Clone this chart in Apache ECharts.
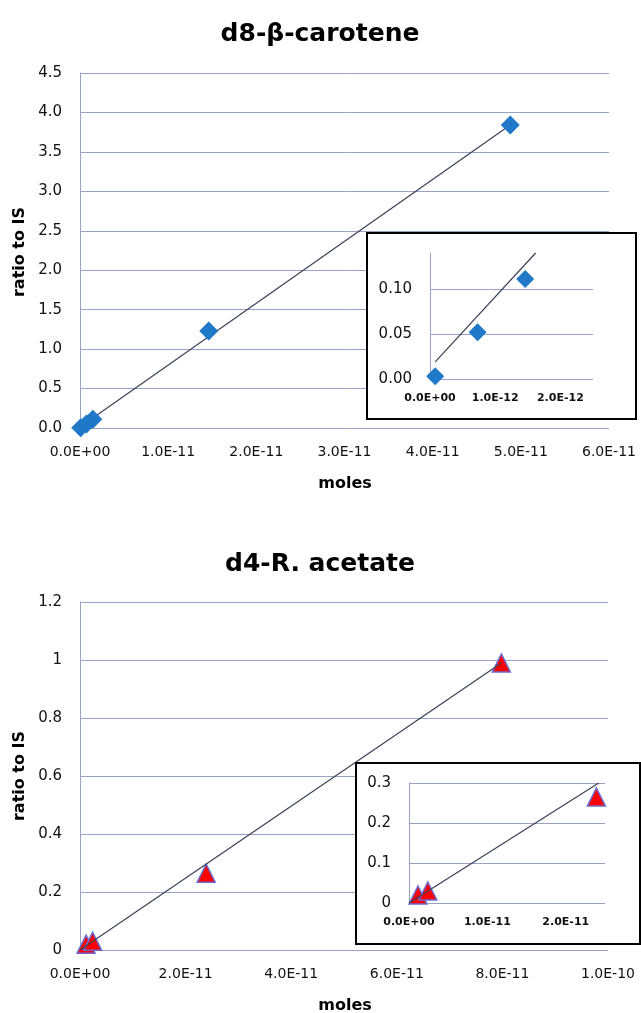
<!DOCTYPE html>
<html>
<head>
<meta charset="utf-8">
<script src="https://cdn.jsdelivr.net/npm/echarts@6/dist/echarts.min.js"></script>
<style>
html,body{margin:0;padding:0;background:#fff;}
#chart{width:641px;height:1013px;}
</style>
</head>
<body>
<div id="chart"></div>
<script>
// ---------- data ----------
const titleTop = 'd8-β-carotene';
const titleBottom = 'd4-R. acetate';
const yAxisTitle = 'ratio to IS';
const xAxisTitle = 'moles';

// d8-β-carotene
const caroteneMoles = [0.08e-12, 0.73e-12, 1.46e-12, 1.46e-11, 4.88e-11];
const caroteneRatio = [0.003, 0.052, 0.111, 1.23, 3.84];
// trend line endpoints (main / inset)
const caroteneTrendX = [0, 4.88e-11];
const caroteneTrendY = [0.013, 3.84];
const caroteneInsetTrendX = [0.08e-12, 1.62e-12];
const caroteneInsetTrendY = [0.019, 0.14];

// d4-R. acetate
const acetateMoles = [0.115e-11, 0.24e-11, 2.39e-11, 7.98e-11];
const acetateRatio = [0.02, 0.03, 0.265, 0.99];
const acetateTrendX = [0, 7.98e-11];
const acetateTrendY = [0, 0.99];
const acetateInsetTrendX = [0, 2.42e-11];
const acetateInsetTrendY = [0, 0.3];

// axis ranges
const topMainX = {min: 0, max: 6e-11, interval: 1e-11};
const topMainY = {min: 0, max: 4.5, interval: 0.5};
const topInsetX = {min: 0, max: 2.5e-12, interval: 1e-12};
const topInsetY = {min: 0, max: 0.14, interval: 0.05};
const botMainX = {min: 0, max: 1e-10, interval: 2e-11};
const botMainY = {min: 0, max: 1.2, interval: 0.2};
const botInsetX = {min: 0, max: 2.5e-11, interval: 1e-11};
const botInsetY = {min: 0, max: 0.3, interval: 0.1};

// ---------- helpers ----------
const FONT = 'DejaVu Sans';
const GRID_COLOR = '#97a3c7';
const TEXT = '#111';
const TREND = '#3a4158';

function sci(v) {
  if (Math.abs(v) < 1e-30) return '0.0E+00';
  let e = Math.floor(Math.log10(Math.abs(v)) + 1e-9);
  let m = v / Math.pow(10, e);
  if (Math.round(m * 10) / 10 >= 10) { m /= 10; e += 1; }
  return m.toFixed(1) + 'E' + (e < 0 ? '-' : '+') + String(Math.abs(e)).padStart(2, '0');
}
function pairs(xs, ys) { return xs.map((x, i) => [x, ys[i]]); }

function xAxisDef(gi, range, opts) {
  return Object.assign({
    type: 'value', gridIndex: gi,
    min: range.min, max: range.max, interval: range.interval,
    axisLine: {show: false}, axisTick: {show: false}, splitLine: {show: false},
    axisLabel: {formatter: sci, color: TEXT, fontFamily: FONT, fontSize: 14, margin: 17}
  }, opts || {});
}
function yAxisDef(gi, range, fmt, opts) {
  return Object.assign({
    type: 'value', gridIndex: gi,
    min: range.min, max: range.max, interval: range.interval,
    axisLine: {show: true, lineStyle: {color: GRID_COLOR, width: 1}},
    axisTick: {show: false},
    splitLine: {show: true, lineStyle: {color: GRID_COLOR, width: 1}},
    axisLabel: {formatter: fmt, color: TEXT, fontFamily: FONT, fontSize: 15, margin: 18}
  }, opts || {});
}

const diamondStyle = {color: '#1f78c8', opacity: 1};
const triangleStyle = {color: '#ff0000', borderColor: '#6b6bd0', borderWidth: 1.5, opacity: 1};

const chart = echarts.init(document.getElementById('chart'), null, {renderer: 'canvas'});

const option = {
  backgroundColor: '#fff',
  animation: false,
  grid: [
    {left: 80, top: 73, width: 529, height: 355},   // top main
    {left: 430, top: 253, width: 163, height: 126}, // top inset
    {left: 80, top: 602, width: 528, height: 348},  // bottom main
    {left: 409, top: 783, width: 196, height: 120}  // bottom inset
  ],
  xAxis: [
    xAxisDef(0, topMainX),
    xAxisDef(1, topInsetX, {z: 10, axisLabel: {formatter: sci, color: TEXT, fontFamily: FONT, fontWeight: 'bold', fontSize: 11, margin: 14, showMaxLabel: false}}),
    xAxisDef(2, botMainX),
    xAxisDef(3, botInsetX, {z: 10, axisLabel: {formatter: sci, color: TEXT, fontFamily: FONT, fontWeight: 'bold', fontSize: 11, margin: 14, showMaxLabel: false}})
  ],
  yAxis: [
    yAxisDef(0, topMainY, v => v.toFixed(1)),
    yAxisDef(1, topInsetY, v => v.toFixed(2), {
      z: 10,
      splitLine: {show: true, showMaxLine: false, lineStyle: {color: GRID_COLOR, width: 1}},
      axisLabel: {formatter: v => v.toFixed(2), color: TEXT, fontFamily: FONT, fontSize: 15, margin: 18, showMaxLabel: false}
    }),
    yAxisDef(2, botMainY, v => String(+v.toFixed(2))),
    yAxisDef(3, botInsetY, v => String(+v.toFixed(2)), {z: 10})
  ],
  series: [
    {type: 'line', xAxisIndex: 0, yAxisIndex: 0, data: pairs(caroteneTrendX, caroteneTrendY),
     symbol: 'none', lineStyle: {color: TREND, width: 1.2}, z: 2, silent: true},
    {type: 'scatter', xAxisIndex: 0, yAxisIndex: 0, data: pairs(caroteneMoles, caroteneRatio),
     symbol: 'diamond', symbolSize: 19, itemStyle: diamondStyle, clip: false, z: 3},
    {type: 'line', xAxisIndex: 1, yAxisIndex: 1, data: pairs(caroteneInsetTrendX, caroteneInsetTrendY),
     symbol: 'none', lineStyle: {color: TREND, width: 1.2}, z: 11, silent: true},
    {type: 'scatter', xAxisIndex: 1, yAxisIndex: 1, data: pairs(caroteneMoles.slice(0, 3), caroteneRatio.slice(0, 3)),
     symbol: 'diamond', symbolSize: 18, itemStyle: diamondStyle, clip: false, z: 12},

    {type: 'line', xAxisIndex: 2, yAxisIndex: 2, data: pairs(acetateTrendX, acetateTrendY),
     symbol: 'none', lineStyle: {color: TREND, width: 1.2}, z: 3, silent: true},
    {type: 'scatter', xAxisIndex: 2, yAxisIndex: 2, data: pairs(acetateMoles, acetateRatio),
     symbol: 'triangle', symbolSize: 18, itemStyle: triangleStyle, clip: false, z: 2},
    {type: 'line', xAxisIndex: 3, yAxisIndex: 3, data: pairs(acetateInsetTrendX, acetateInsetTrendY),
     symbol: 'none', lineStyle: {color: TREND, width: 1.2}, z: 12, silent: true},
    {type: 'scatter', xAxisIndex: 3, yAxisIndex: 3, data: pairs(acetateMoles.slice(0, 3), acetateRatio.slice(0, 3)),
     symbol: 'triangle', symbolSize: 18, itemStyle: triangleStyle, clip: false, z: 11}
  ],
  graphic: [
    {type: 'rect', z: 5, shape: {x: 367, y: 233, width: 269, height: 186},
     style: {fill: '#fff', stroke: '#000', lineWidth: 2}},
    {type: 'rect', z: 5, shape: {x: 356, y: 763, width: 284, height: 181},
     style: {fill: '#fff', stroke: '#000', lineWidth: 2}},
    {type: 'text', z: 20, x: 320, y: 34, style: {text: titleTop, font: 'bold 25px "' + FONT + '"', fill: '#000', textAlign: 'center', textVerticalAlign: 'middle'}},
    {type: 'text', z: 20, x: 320, y: 564, style: {text: titleBottom, font: 'bold 25px "' + FONT + '"', fill: '#000', textAlign: 'center', textVerticalAlign: 'middle'}},
    {type: 'text', z: 20, x: 20, y: 252, rotation: Math.PI / 2, style: {text: yAxisTitle, font: 'bold 16px "' + FONT + '"', fill: '#000', textAlign: 'center', textVerticalAlign: 'middle'}},
    {type: 'text', z: 20, x: 20, y: 776, rotation: Math.PI / 2, style: {text: yAxisTitle, font: 'bold 16px "' + FONT + '"', fill: '#000', textAlign: 'center', textVerticalAlign: 'middle'}},
    {type: 'text', z: 20, x: 345, y: 484, style: {text: xAxisTitle, font: 'bold 16px "' + FONT + '"', fill: '#000', textAlign: 'center', textVerticalAlign: 'middle'}},
    {type: 'text', z: 20, x: 345, y: 1006, style: {text: xAxisTitle, font: 'bold 16px "' + FONT + '"', fill: '#000', textAlign: 'center', textVerticalAlign: 'middle'}}
  ]
};
chart.setOption(option);
</script>
</body>
</html>
